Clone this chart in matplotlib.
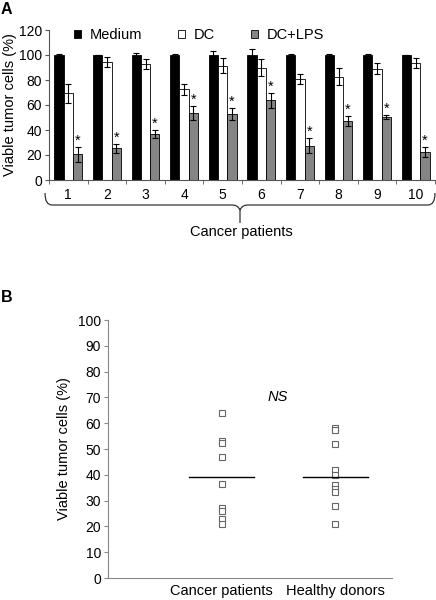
import matplotlib
matplotlib.use("Agg")
import matplotlib.pyplot as plt
from matplotlib.path import Path
from matplotlib.patches import PathPatch
import numpy as np

plt.rcParams['font.family'] = ['Liberation Sans', 'DejaVu Sans']

# panel A data
patients = ["1", "2", "3", "4", "5", "6", "7", "8", "9", "10"]
medium = [100, 100, 100, 100, 100, 100, 100, 100, 100, 100]
medium_err = [1, 0.3, 2, 1, 3, 4.5, 1, 0.5, 0.5, 0.3]
dc = [69.5, 94.5, 92.5, 72.5, 91.5, 90, 80.5, 82.5, 89, 94]
dc_err = [7.5, 4, 4, 4.7, 6, 6.5, 4, 6.8, 4.5, 4]
dclps = [20.7, 25.3, 36.8, 53.5, 53, 63.7, 27.4, 47, 50.3, 22.6]
dclps_err = [5.9, 3.7, 3.4, 5.6, 4.6, 6, 6, 3.9, 1.6, 3.9]

# panel B data
groups = ["Cancer patients", "Healthy donors"]
cancer_vals = [64, 53, 52.5, 47, 36.5, 27, 26, 23, 21]
healthy_vals = [58, 57.5, 52, 42, 40, 36, 34.5, 33.5, 28, 21]
medians = [39, 39]

W, H = 436, 600
fig = plt.figure(figsize=(W / 100, H / 100), dpi=100)

def rect(x0, y0, x1, y1):
    return [x0 / W, 1 - y1 / H, (x1 - x0) / W, (y1 - y0) / H]

# ---------- panel A ----------
axA = fig.add_axes(rect(49, 30, 435, 180))
x = np.arange(len(patients))
bw = 0.24
ekw = dict(ecolor="black", elinewidth=0.8, capsize=2.4, capthick=0.8)
b1 = axA.bar(x - bw, medium, bw, yerr=medium_err, color="black",
             edgecolor="black", linewidth=0.6, error_kw=ekw, label="Medium")
b2 = axA.bar(x, dc, bw, yerr=dc_err, color="white",
             edgecolor="black", linewidth=0.6, error_kw=ekw, label="DC")
b3 = axA.bar(x + bw, dclps, bw, yerr=dclps_err, color="#858585",
             edgecolor="black", linewidth=0.6, error_kw=ekw, label="DC+LPS")
for xi, v, e in zip(x, dclps, dclps_err):
    axA.text(xi + bw, v + e - 0.5, "*", ha="center", va="bottom", fontsize=10.5)

axA.set_xlim(-0.5, len(patients) - 0.5)
axA.set_ylim(0, 120)
axA.set_yticks(range(0, 121, 20))
axA.set_xticks(x)
axA.set_xticklabels(patients)
axA.set_xticks(np.arange(-0.5, len(patients), 1), minor=True)
axA.tick_params(axis="x", which="major", length=0, pad=6, labelsize=10)
axA.tick_params(axis="x", which="minor", length=3, color="#555555")
axA.tick_params(axis="y", length=3, labelsize=10, color="#555555", pad=2)
for s in ["top", "right"]:
    axA.spines[s].set_visible(False)
for s in ["left", "bottom"]:
    axA.spines[s].set_color("#555555")
    axA.spines[s].set_linewidth(0.8)
axA.set_ylabel("Viable tumor cells (%)", fontsize=10.5, labelpad=1)
axA.legend(handles=[b1, b2, b3], loc="upper left", bbox_to_anchor=(0.05, 1.05),
           ncol=3, frameon=False, fontsize=10.5, handlelength=0.45, handleheight=0.45,
           handletextpad=0.6, columnspacing=2.5, borderaxespad=0)

# ---------- annotation layer (pixel coords) ----------
ov = fig.add_axes([0, 0, 1, 1], zorder=-1)
ov.set_xlim(0, W)
ov.set_ylim(H, 0)
ov.axis("off")
cx, yb, yt = 240, 205, 193
verts = [(45, yt), (45, yb), (52, yb),
         (cx - 8, yb), (cx - 2, yb), (cx, yb + 5),
         (cx, 223), (cx, yb + 5),
         (cx + 2, yb), (cx + 8, yb),
         (428, yb), (435, yb), (435, yt)]
codes = [Path.MOVETO, Path.CURVE3, Path.CURVE3,
         Path.LINETO, Path.CURVE3, Path.CURVE3,
         Path.LINETO, Path.MOVETO,
         Path.CURVE3, Path.CURVE3,
         Path.LINETO, Path.CURVE3, Path.CURVE3]
ov.add_patch(PathPatch(Path(verts, codes), fill=False, lw=0.9, edgecolor="#333333"))
ov.text(241, 232, "Cancer patients", ha="center", va="center", fontsize=10.5)
ov.text(1, 10, "A", ha="left", va="center", fontsize=11.5, fontweight="bold")
ov.text(1, 297, "B", ha="left", va="center", fontsize=11.5, fontweight="bold")

# ---------- panel B ----------
axB = fig.add_axes(rect(108, 320, 392, 578))
for i, vals in enumerate([cancer_vals, healthy_vals]):
    axB.plot([i + 1] * len(vals), vals, linestyle="none", marker="s", ms=4,
             mfc="white", mec="#666666", mew=0.8)
    axB.plot([i + 1 - 0.285, i + 1 + 0.285], [medians[i], medians[i]],
             color="black", lw=1.0)
axB.text(1.49, 70, "NS", ha="center", va="center", fontsize=10.5, style="italic")
axB.set_xlim(0, 2.5)
axB.set_ylim(0, 100)
axB.set_yticks(range(0, 101, 10))
axB.set_xticks([1, 2])
axB.set_xticklabels(groups)
axB.tick_params(axis="x", length=0, pad=4, labelsize=10.5)
axB.tick_params(axis="y", length=3, labelsize=10, color="#888888", pad=2)
for s in ["top", "right"]:
    axB.spines[s].set_visible(False)
for s in ["left", "bottom"]:
    axB.spines[s].set_color("#888888")
    axB.spines[s].set_linewidth(0.8)
axB.set_ylabel("Viable tumor cells (%)", fontsize=10.5, labelpad=5)

fig.savefig("out.png", dpi=100)
